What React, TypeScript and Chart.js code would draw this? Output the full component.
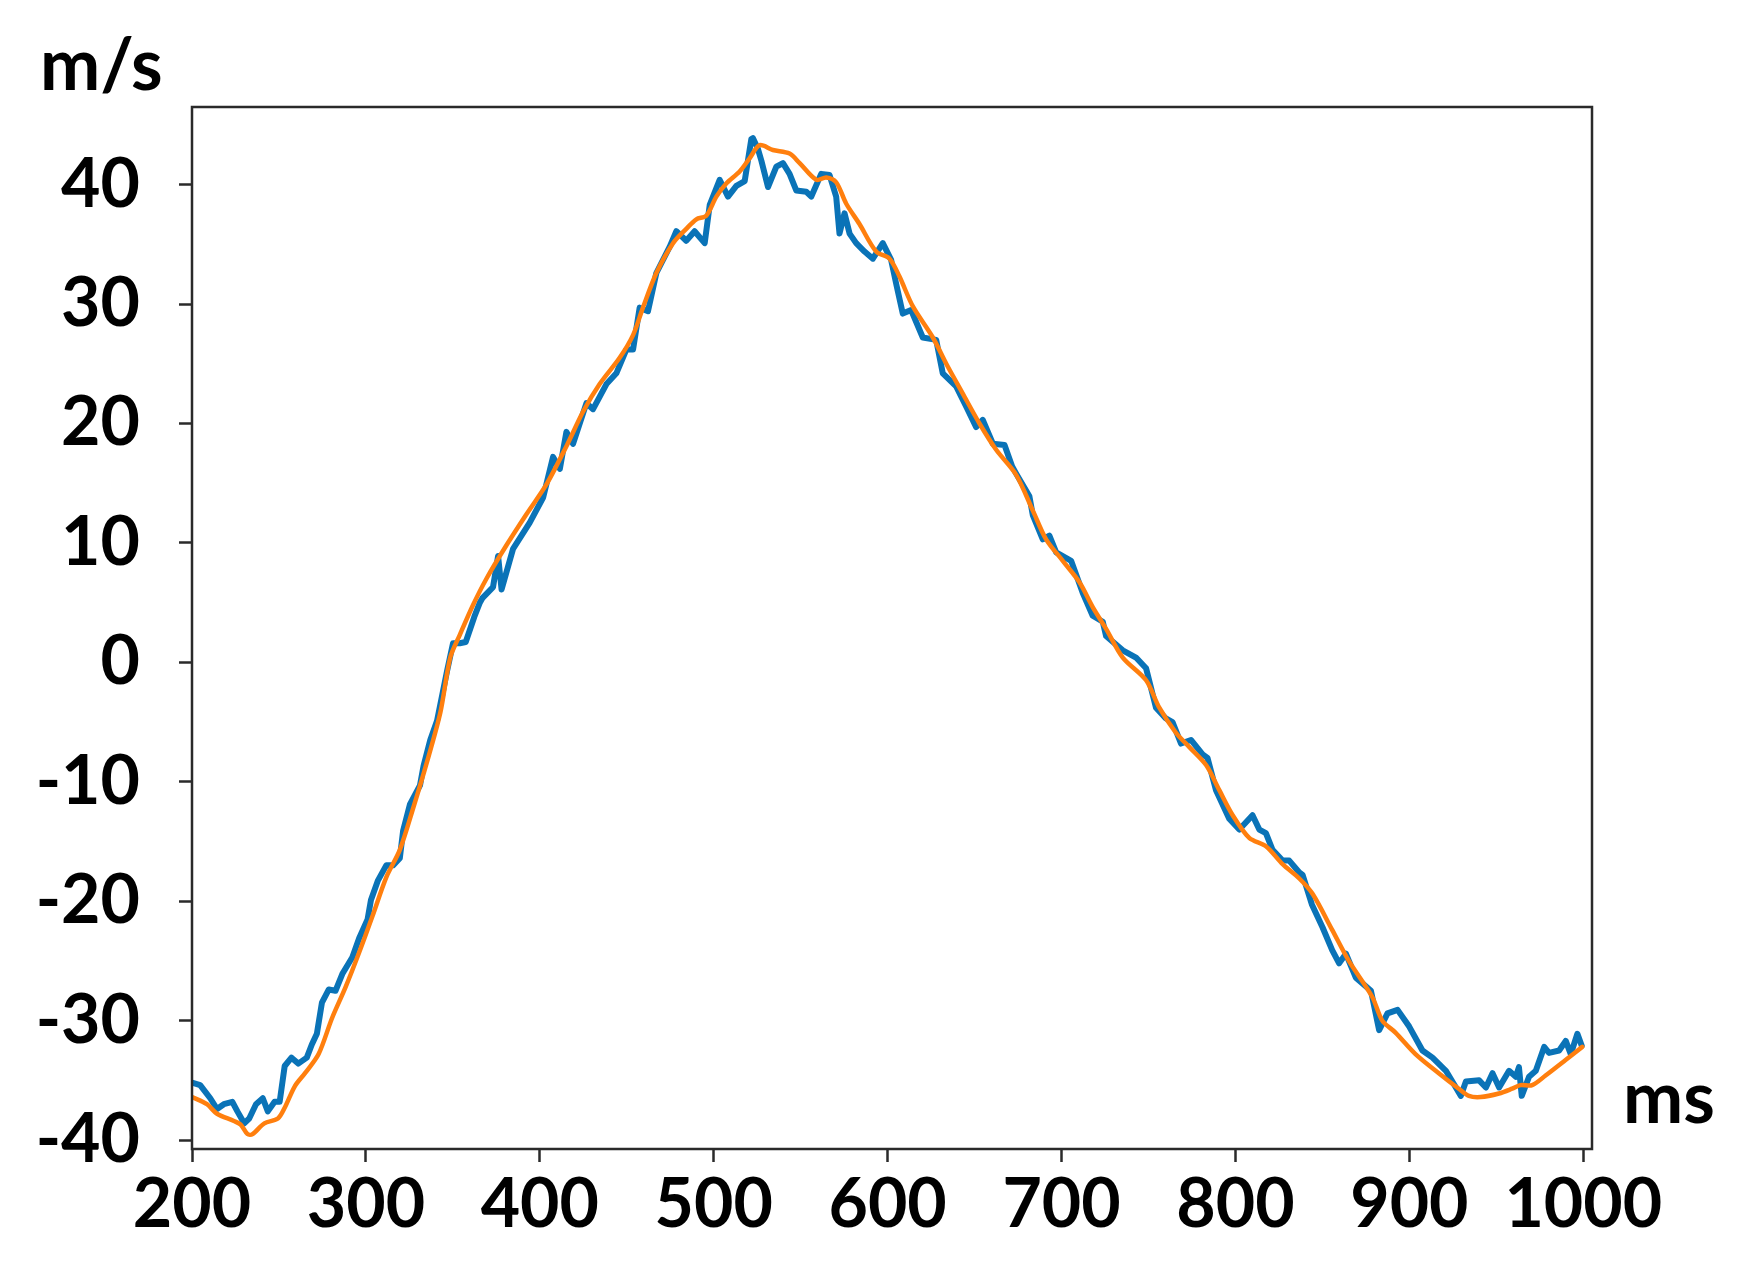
import React, { useEffect, useRef } from "react";
import { Chart, registerables } from "chart.js";

Chart.register(...registerables);

// Blue (measured, noisy) series
const blueMs = [
  200, 204.7, 210.5, 214.4, 218.3, 223.2, 226.1, 230, 232.9, 236.8, 240.7, 243.6, 247.5, 250.4,
  253.3, 257.2, 261.1, 266, 268.9, 271.8, 274.7, 278.6, 282.5, 286.4, 292.2, 296.1, 301, 302.9,
  306.8, 311.7, 315.6, 319.5, 321.4, 325.3, 331.1, 333.1, 337, 340.9, 346.7, 350.1, 354, 357.4,
  362.3, 365.5, 367.1, 373.1, 376, 378, 384.6, 394.2, 401.9, 407.6, 411.5, 415.3, 419.1, 426.8,
  430.6, 438.3, 444, 449.8, 453.6, 457.4, 462.2, 467, 474.7, 478.5, 484.2, 489, 494.8, 497.7,
  503.4, 508.2, 513, 517.8, 521.6, 522.5, 525.4, 527.4, 531.2, 536, 539.8, 543.6, 547.5, 553.2,
  556.1, 561.8, 566.6, 570.4, 572.3, 575.2, 578.1, 581.9, 586.7, 591.5, 597.2, 602, 604.9, 608.7,
  613.5, 620.2, 627.9, 631.7, 639.4, 645.2, 650.9, 654.7, 660.5, 667.2, 671.6, 673.9, 681.5, 683.5,
  689.2, 693, 696.9, 705.5, 712.2, 717.9, 723.7, 725.6, 735.2, 742.8, 748.6, 754.3, 760, 763.8,
  768.7, 774.4, 781.1, 783.9, 788.8, 796.4, 802.2, 809.8, 813.7, 817.5, 821.3, 827.1, 830.9, 836.7,
  838.6, 844, 850.1, 855.6, 859.6, 863.5, 869.2, 877.9, 882.6, 887.4, 893.2, 899.9, 907.5, 913.3,
  921, 929.6, 932.5, 940.1, 944, 947.8, 951.6, 957.3, 961.2, 963, 964.6, 968.8, 972.7, 977.5,
  980.3, 986.1, 989.9, 992.8, 996.6, 999.1,
];
const blueVals = [
  -35.2, -35.4, -36.5, -37.4, -37.0, -36.8, -37.6, -38.6, -38.2, -37.0, -36.5, -37.6, -36.8, -36.8,
  -33.8, -33.1, -33.6, -33.1, -32.0, -31.1, -28.5, -27.4, -27.5, -26.1, -24.7, -23.1, -21.5, -19.9,
  -18.3, -17.0, -17.0, -16.4, -14.1, -11.9, -10.3, -8.7, -6.5, -4.9, -0.7, 1.6, 1.6, 1.7,
  3.8, 5.0, 5.4, 6.3, 8.9, 6.1, 9.5, 11.7, 13.8, 17.2, 16.2, 19.3, 18.3, 21.7,
  21.2, 23.3, 24.2, 26.2, 26.2, 29.7, 29.4, 32.6, 34.8, 36.1, 35.3, 36.1, 35.1, 38.3,
  40.4, 39.0, 39.9, 40.3, 43.8, 43.9, 43.0, 42.0, 39.8, 41.5, 41.8, 40.9, 39.5, 39.4,
  39.0, 40.9, 40.8, 39.0, 35.9, 37.6, 35.9, 35.1, 34.4, 33.8, 35.1, 33.7, 31.7, 29.2,
  29.5, 27.2, 27.0, 24.2, 23.1, 21.4, 19.7, 20.3, 18.3, 18.2, 16.4, 15.8, 13.9, 12.3,
  10.3, 10.6, 9.2, 8.5, 5.8, 3.9, 3.4, 2.2, 1.0, 0.4, -0.5, -3.8, -4.7, -5.0,
  -6.8, -6.5, -7.7, -8.0, -10.7, -13.1, -14.0, -12.8, -14.0, -14.3, -15.7, -16.6, -16.6, -17.6,
  -17.8, -20.3, -22.2, -24.1, -25.2, -24.4, -26.4, -27.5, -30.8, -29.4, -29.1, -30.5, -32.5, -33.1,
  -34.2, -36.3, -35.1, -35.0, -35.6, -34.4, -35.6, -34.2, -34.7, -33.9, -36.3, -34.7, -34.2, -32.2,
  -32.7, -32.5, -31.7, -32.8, -31.1, -32.1,
];

// Orange (smoothed) series
const orangeMs = [
  200, 208.6, 214.4, 224.1, 228, 231.9, 234.8, 241.6, 249.4, 253.3, 259.1, 265, 272.8, 280.5,
  288.3, 296.1, 303.9, 311.7, 319.5, 327.2, 335, 342.8, 348.5, 354, 361.6, 369.3, 380.8, 392.3,
  403.8, 415.3, 424.9, 434.4, 445.9, 453.6, 459.3, 467, 476.6, 484.2, 490, 495.7, 501.5, 507.2,
  514.9, 520.6, 526.4, 534, 543.6, 549.4, 559, 564.7, 570.4, 576.2, 583.8, 593.4, 601.1, 606.8,
  614.5, 626, 633.7, 643.2, 652.8, 662.4, 673.9, 683.5, 691.1, 700.7, 710.3, 718, 725.6, 735.2,
  748.6, 756.2, 765.8, 773.5, 783.1, 790.7, 798.4, 807.9, 817.5, 827.1, 836.7, 844.4, 855.6, 865.2,
  878.6, 884.4, 892, 903.5, 916.9, 928.4, 934.2, 940.9, 951.5, 959.1, 963.9, 970.6, 978.3, 989.8,
  999.4,
];
const orangeVals = [
  -36.4, -37.0, -37.8, -38.4, -38.7, -39.5, -39.5, -38.6, -38.2, -37.3, -35.5, -34.4, -32.8, -29.8,
  -27.2, -24.3, -21.2, -18.0, -15.7, -12.2, -8.4, -4.2, 0.4, 2.3, 4.8, 7.0, 9.8, 12.4,
  14.9, 18.1, 21.0, 23.3, 25.5, 27.4, 29.7, 32.6, 35.1, 36.3, 37.1, 37.4, 39.0, 40.1,
  41.1, 42.2, 43.3, 42.9, 42.6, 41.8, 40.4, 40.6, 40.2, 38.4, 36.7, 34.4, 33.8, 32.3,
  29.8, 27.2, 25.0, 22.5, 20.0, 17.8, 15.7, 12.7, 10.3, 8.5, 6.7, 4.6, 2.8, 0.4,
  -1.5, -3.8, -5.9, -7.1, -8.6, -10.7, -12.8, -14.7, -15.4, -16.9, -18.1, -19.4, -22.4, -25.0,
  -28.0, -30.0, -31.0, -32.8, -34.4, -35.7, -36.3, -36.4, -36.1, -35.7, -35.4, -35.4, -34.6, -33.3,
  -32.2,
];

const xTicks = [200, 300, 400, 500, 600, 700, 800, 900, 1000];
const yTicks = [-40, -30, -20, -10, 0, 10, 20, 30, 40];
const yUnit = "m/s";
const xUnit = "ms";

const FONT = "Lato, 'Open Sans', sans-serif";

export default function App() {
  const ref = useRef<HTMLCanvasElement | null>(null);

  useEffect(() => {
    const canvas = ref.current;
    if (!canvas) return;

    const framePlugin = {
      id: "frameAndUnits",
      afterDraw(chart: any) {
        const { ctx, chartArea } = chart;
        ctx.save();
        ctx.strokeStyle = "#2a2a2a";
        ctx.lineWidth = 2.5;
        ctx.strokeRect(chartArea.left, chartArea.top, chartArea.right - chartArea.left, chartArea.bottom - chartArea.top);
        ctx.fillStyle = "#000";
        ctx.font = `bold 72px ${FONT}`;
        ctx.textBaseline = "alphabetic";
        ctx.textAlign = "left";
        ctx.fillText(yUnit, chartArea.left - 152, chartArea.top - 17);
        ctx.fillText(xUnit, chartArea.right + 31, chartArea.bottom - 26);
        ctx.restore();
      },
    };

    const chart = new Chart(canvas, {
      type: "line",
      data: {
        datasets: [
          {
            label: "smoothed",
            data: orangeMs.map((x, i) => ({ x, y: orangeVals[i] })),
            borderColor: "#ff7f0e",
            borderWidth: 4.5,
            borderJoinStyle: "round",
            borderCapStyle: "round",
            pointRadius: 0,
            tension: 0.3,
            order: 0,
          },
          {
            label: "measured",
            data: blueMs.map((x, i) => ({ x, y: blueVals[i] })),
            borderColor: "#0a73b7",
            borderWidth: 6,
            borderJoinStyle: "round",
            borderCapStyle: "round",
            pointRadius: 0,
            tension: 0,
            order: 1,
          },
        ],
      },
      options: {
        animation: false,
        responsive: false,
        devicePixelRatio: 1,
        layout: { padding: { left: 0, top: 107, right: 160, bottom: 0 } },
        plugins: { legend: { display: false }, tooltip: { enabled: false } },
        scales: {
          x: {
            type: "linear",
            min: 200,
            max: 1005,
            afterBuildTicks: (scale: any) => {
              scale.ticks = xTicks.map((v) => ({ value: v }));
            },
            afterFit: (scale: any) => {
              scale.height = 120;
            },
            border: { display: false },
            grid: {
              drawOnChartArea: false,
              drawTicks: true,
              tickLength: 13,
              tickColor: "#2a2a2a",
              tickWidth: 2.5,
            },
            ticks: {
              color: "#000",
              font: { family: FONT, size: 68, weight: "bold" },
              padding: 2,
              maxRotation: 0,
              autoSkip: false,
              callback: (v: any) => String(v),
            },
          },
          y: {
            type: "linear",
            min: -40.75,
            max: 46.5,
            afterBuildTicks: (scale: any) => {
              scale.ticks = yTicks.map((v) => ({ value: v }));
            },
            afterFit: (scale: any) => {
              scale.width = 192;
            },
            border: { display: false },
            grid: {
              drawOnChartArea: false,
              drawTicks: true,
              tickLength: 13,
              tickColor: "#2a2a2a",
              tickWidth: 2.5,
            },
            ticks: {
              color: "#000",
              font: { family: FONT, size: 68, weight: "bold" },
              padding: 39,
              autoSkip: false,
              callback: (v: any) => String(v),
            },
          },
        },
      },
      plugins: [framePlugin],
    });

    return () => chart.destroy();
  }, []);

  return (
    <div style={{ position: "absolute", left: 0, top: 0, width: 1752, height: 1269, background: "#fff" }}>
      <canvas ref={ref} width={1752} height={1269} style={{ width: 1752, height: 1269, display: "block" }} />
    </div>
  );
}
